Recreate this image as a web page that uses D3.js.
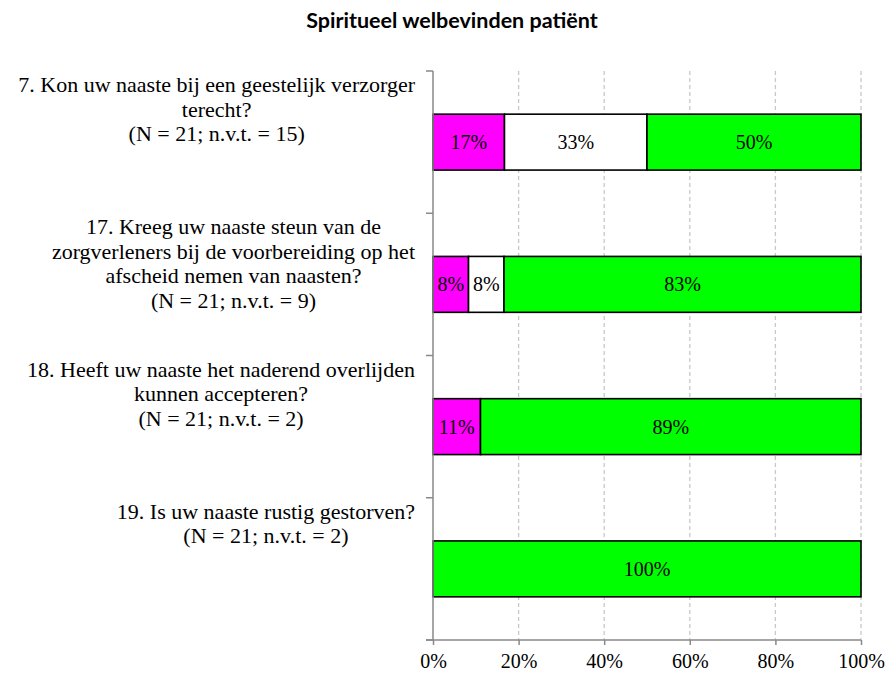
<!DOCTYPE html>
<html>
<head>
<meta charset="utf-8">
<script src="https://cdn.jsdelivr.net/npm/d3@7"></script>
<style>
  body { margin: 0; background: #fff; }
  svg { display: block; }
</style>
</head>
<body>
<svg id="chart" width="892" height="675"></svg>
<script>
// ---- data ----
const title = "Spiritueel welbevinden patiënt";
const categories = ["q7", "q17", "q18", "q19"];
const categoryLabels = [
  ["7. Kon uw naaste bij een geestelijk verzorger", "terecht?", "(N = 21; n.v.t. = 15)"],
  ["17. Kreeg uw naaste steun van de", "zorgverleners bij de voorbereiding op het", "afscheid nemen van naasten?", "(N = 21; n.v.t. = 9)"],
  ["18. Heeft uw naaste het naderend overlijden", "kunnen accepteren?", "(N = 21; n.v.t. = 2)"],
  ["19. Is uw naaste rustig gestorven?", "(N = 21; n.v.t. = 2)"]
];
const seriesKeys = ["nee", "enigszins", "ja"];
const seriesColors = ["#FF00FF", "#FFFFFF", "#00FF00"];
const neeValues = [0.167, 0.083, 0.111, 0.0];
const enigszinsValues = [0.333, 0.083, 0.0, 0.0];
const jaValues = [0.500, 0.834, 0.889, 1.0];
const xTicks = [0, 0.2, 0.4, 0.6, 0.8, 1.0];

// ---- layout ----
const svg = d3.select("#chart");
const pLeft = 433, pRight = 861, pTop = 71, pBottom = 640;
const labelFont = "'Liberation Serif', 'DejaVu Serif', serif";

const rows = categories.map((c, i) => ({
  cat: c, nee: neeValues[i], enigszins: enigszinsValues[i], ja: jaValues[i]
}));
const stacked = d3.stack().keys(seriesKeys)(rows);

const x = d3.scaleLinear().domain([0, 1]).range([pLeft, pRight]);
const y = d3.scaleBand().domain(categories).range([pTop, pBottom]).paddingInner(0.607).paddingOuter(0.3035);
const yOuter = d3.scaleBand().domain(categories).range([pTop, pBottom]);
const color = d3.scaleOrdinal().domain(seriesKeys).range(seriesColors);

// title
svg.append("text")
  .attr("x", 452).attr("y", 28)
  .attr("text-anchor", "middle")
  .style("font-family", "Lato, 'Open Sans', sans-serif")
  .style("font-weight", "bold")
  .style("font-size", "21.5px")
  .attr("fill", "#000")
  .text(title);

// gridlines
svg.append("g")
  .selectAll("line")
  .data(xTicks.filter(d => d > 0))
  .join("line")
  .attr("x1", d => x(d)).attr("x2", d => x(d))
  .attr("y1", pTop).attr("y2", pBottom)
  .attr("stroke", "#c8c8c8")
  .attr("stroke-width", 1.3)
  .attr("stroke-dasharray", "4,3");

// bars
const groups = svg.append("g")
  .selectAll("g")
  .data(stacked)
  .join("g")
  .attr("fill", d => color(d.key));

groups.selectAll("rect")
  .data(d => d.filter(s => s[1] - s[0] > 0))
  .join("rect")
  .attr("x", d => x(d[0]))
  .attr("width", d => x(d[1]) - x(d[0]))
  .attr("y", d => y(d.data.cat))
  .attr("height", y.bandwidth())
  .attr("stroke", "#000")
  .attr("stroke-width", 1.6);

// value labels
groups.selectAll("text")
  .data(d => d.filter(s => s[1] - s[0] > 0))
  .join("text")
  .attr("x", d => (x(d[0]) + x(d[1])) / 2)
  .attr("y", d => y(d.data.cat) + y.bandwidth() / 2 + 7)
  .attr("text-anchor", "middle")
  .attr("fill", "#000")
  .style("font-family", labelFont)
  .style("font-size", "20px")
  .text(d => d3.format(".0%")(d[1] - d[0]));

// y axis
const yAxis = svg.append("g");
yAxis.append("line")
  .attr("x1", pLeft).attr("x2", pLeft)
  .attr("y1", pTop).attr("y2", pBottom)
  .attr("stroke", "#898989").attr("stroke-width", 1.5);
const yTickPos = categories.map(c => yOuter(c)).concat([pBottom]);
yAxis.selectAll("line.tick")
  .data(yTickPos)
  .join("line")
  .attr("class", "tick")
  .attr("x1", pLeft - 7).attr("x2", pLeft)
  .attr("y1", d => d).attr("y2", d => d)
  .attr("stroke", "#898989").attr("stroke-width", 1.5);

// x axis
const xAxisG = svg.append("g")
  .attr("transform", `translate(0,${pBottom})`)
  .call(d3.axisBottom(x).tickValues(xTicks).tickFormat(d3.format(".0%")).tickSize(5).tickPadding(9));
xAxisG.select(".domain").remove();
xAxisG.append("line")
  .attr("x1", pLeft - 7).attr("x2", pRight)
  .attr("stroke", "#898989").attr("stroke-width", 1.5);
xAxisG.selectAll(".tick line").attr("stroke", "#898989").attr("stroke-width", 1.5);
xAxisG.selectAll(".tick text")
  .attr("fill", "#000")
  .style("font-family", labelFont)
  .style("font-size", "20px");

// category labels (block right edge ~415, lines centered within block)
const labelRight = 415;
const lineH = 24.5;
categories.forEach((c, i) => {
  const g = svg.append("g");
  const texts = g.selectAll("text")
    .data(categoryLabels[i])
    .join("text")
    .attr("y", (d, j) => yOuter(c) + 21 + j * lineH)
    .attr("text-anchor", "middle")
    .attr("fill", "#000")
    .style("font-family", labelFont)
    .style("font-size", "22px")
    .text(d => d);
  let maxW = 0;
  texts.each(function () { maxW = Math.max(maxW, this.getComputedTextLength()); });
  texts.attr("x", labelRight - maxW / 2);
});
</script>
</body>
</html>
